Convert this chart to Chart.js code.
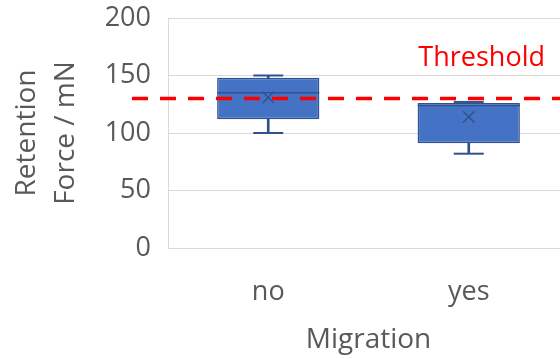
<!DOCTYPE html>
<html>
<head>
<meta charset="utf-8">
<script src="https://cdn.jsdelivr.net/npm/chart.js@4"></script>
<style>
  html, body { margin: 0; padding: 0; background: #fff; overflow: hidden; }
  canvas { display: block; }
</style>
</head>
<body>
<canvas id="chart" width="570" height="359"></canvas>
<script>
const categories = ['no', 'yes'];
const minValues = [100, 82];
const q1Values = [112, 91];
const medianValues = [135, 124];
const q3Values = [148, 126];
const maxValues = [150, 127];
const meanValues = [131, 114];
const thresholdValue = 130;
const thresholdLabel = 'Threshold';
const yTicks = [0, 50, 100, 150, 200];

const boxFill = '#4472C4';
const boxLine = '#2F528F';
const textGray = '#595959';

Chart.defaults.font.family = '"Open Sans", sans-serif';

// dashed threshold line with its label, placed through the y scale
const thresholdLine = {
    id: 'thresholdLine',
    afterDatasetsDraw(chart) {
        const { ctx, chartArea, scales } = chart;
        const y = scales.y.getPixelForValue(thresholdValue);
        ctx.save();
        ctx.strokeStyle = '#FF0000';
        ctx.lineWidth = 3.5;
        ctx.setLineDash([16, 12]);
        ctx.beginPath();
        ctx.moveTo(chartArea.left - 36, y);
        ctx.lineTo(chart.width, y);
        ctx.stroke();
        ctx.setLineDash([]);
        ctx.fillStyle = '#FF0000';
        ctx.font = '27px "Open Sans"';
        ctx.textAlign = 'right';
        ctx.textBaseline = 'alphabetic';
        ctx.fillText(thresholdLabel, chartArea.right - 24, y - 33);
        ctx.restore();
    }
};

const pairs = (a, b) => categories.map((_, i) => [a[i], b[i]]);

const markOptions = (data, style, radius, width, order) => ({
    type: 'line',
    data: data,
    showLine: false,
    pointStyle: style,
    pointRadius: radius,
    pointBorderColor: boxLine,
    pointBackgroundColor: 'rgba(0,0,0,0)',
    pointBorderWidth: width,
    order: order
});

new Chart(document.getElementById('chart'), {
    type: 'bar',
    data: {
        labels: categories,
        datasets: [
            { data: pairs(minValues, q1Values), backgroundColor: boxLine, barThickness: 2, grouped: false, order: 6 },
            { data: pairs(q3Values, maxValues), backgroundColor: boxLine, barThickness: 2, grouped: false, order: 6 },
            markOptions(minValues, 'line', 15, 2, 5),
            markOptions(maxValues, 'line', 15, 2, 5),
            {
                data: pairs(q1Values, q3Values),
                backgroundColor: boxFill,
                borderColor: boxLine,
                borderWidth: 1.5,
                borderSkipped: false,
                barPercentage: 0.51,
                categoryPercentage: 1,
                grouped: false,
                order: 3
            },
            markOptions(medianValues, 'line', 51, 1.5, 2),
            markOptions(meanValues, 'crossRot', 8, 1.5, 1)
        ]
    },
    options: {
        responsive: false,
        animation: false,
        layout: { autoPadding: false, padding: { top: 18, right: 1, left: 0, bottom: 0 } },
        plugins: {
            legend: { display: false },
            tooltip: { enabled: false }
        },
        scales: {
            x: {
                grid: { display: false },
                border: { display: false },
                ticks: { color: textGray, font: { size: 27 }, padding: 20 },
                title: {
                    display: true,
                    text: 'Migration',
                    color: textGray,
                    font: { size: 28 },
                    padding: { top: 0, bottom: 2 }
                },
                afterFit: (scale) => { scale.height = 111; }
            },
            y: {
                min: yTicks[0],
                max: yTicks[yTicks.length - 1],
                grid: { color: '#D9D9D9', drawTicks: false },
                border: { display: true, color: '#D9D9D9' },
                ticks: { stepSize: yTicks[1] - yTicks[0], color: textGray, font: { size: 27 }, padding: 17 },
                title: {
                    display: true,
                    text: ['Retention', 'Force / mN'],
                    color: textGray,
                    font: { size: 28, lineHeight: 1.39 },
                    padding: { top: 7.5, bottom: 0 }
                },
                afterFit: (scale) => {
                    scale.width = 168;
                    scale.paddingTop = 0;
                    scale.paddingBottom = 0;
                }
            }
        }
    },
    plugins: [thresholdLine]
});
</script>
</body>
</html>
